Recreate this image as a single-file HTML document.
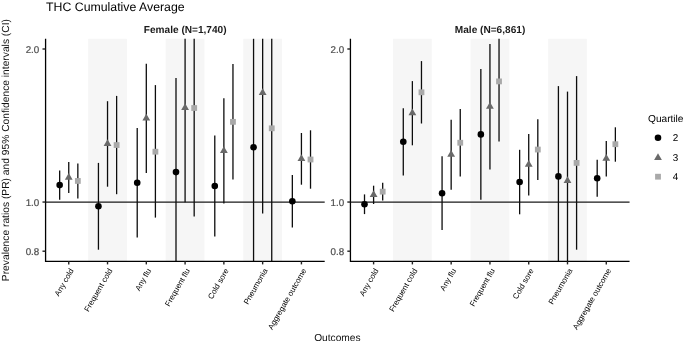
<!DOCTYPE html>
<html lang="en"><head><meta charset="utf-8"><title>THC Cumulative Average</title>
<style>
html,body{margin:0;padding:0;background:#fff;}
body{width:685px;height:343px;overflow:hidden;font-family:"Liberation Sans",Arial,Helvetica,sans-serif;}
svg{display:block;}
</style></head><body>
<svg width="685" height="343" viewBox="0 0 685 343" text-rendering="geometricPrecision" font-family="'Liberation Sans', Arial, Helvetica, sans-serif">
<rect width="685" height="343" fill="#fff"/>
<text x="46.1" y="10.55" font-size="12.3" fill="#000">THC Cumulative Average</text>
<rect x="88.14" y="38.8" width="38.78" height="222.4" fill="#f6f6f6"/>
<rect x="165.7" y="38.8" width="38.78" height="222.4" fill="#f6f6f6"/>
<rect x="243.26" y="38.8" width="38.78" height="222.4" fill="#f6f6f6"/>
<line x1="45.48" x2="324.7" y1="202.05" y2="202.05" stroke="#1a1a1a" stroke-width="1.3"/>
<line x1="59.66" x2="59.66" y1="170.4" y2="199.8" stroke="#0d0d0d" stroke-width="1.3"/>
<line x1="68.75" x2="68.75" y1="162.1" y2="193" stroke="#0d0d0d" stroke-width="1.3"/>
<line x1="77.84" x2="77.84" y1="163.5" y2="198.4" stroke="#0d0d0d" stroke-width="1.3"/>
<line x1="98.44" x2="98.44" y1="162.9" y2="249.7" stroke="#0d0d0d" stroke-width="1.3"/>
<line x1="107.53" x2="107.53" y1="101.2" y2="186.7" stroke="#0d0d0d" stroke-width="1.3"/>
<line x1="116.62" x2="116.62" y1="95.9" y2="194.2" stroke="#0d0d0d" stroke-width="1.3"/>
<line x1="137.22" x2="137.22" y1="128" y2="237.6" stroke="#0d0d0d" stroke-width="1.3"/>
<line x1="146.31" x2="146.31" y1="63.8" y2="172.9" stroke="#0d0d0d" stroke-width="1.3"/>
<line x1="155.4" x2="155.4" y1="85.1" y2="217.6" stroke="#0d0d0d" stroke-width="1.3"/>
<line x1="176" x2="176" y1="77.9" y2="261.2" stroke="#0d0d0d" stroke-width="1.3"/>
<line x1="185.09" x2="185.09" y1="38.8" y2="202.2" stroke="#0d0d0d" stroke-width="1.3"/>
<line x1="194.18" x2="194.18" y1="38.8" y2="216.6" stroke="#0d0d0d" stroke-width="1.3"/>
<line x1="214.78" x2="214.78" y1="135.5" y2="236.6" stroke="#0d0d0d" stroke-width="1.3"/>
<line x1="223.87" x2="223.87" y1="98.2" y2="203.4" stroke="#0d0d0d" stroke-width="1.3"/>
<line x1="232.96" x2="232.96" y1="64.1" y2="179.6" stroke="#0d0d0d" stroke-width="1.3"/>
<line x1="253.56" x2="253.56" y1="38.8" y2="261.2" stroke="#0d0d0d" stroke-width="1.3"/>
<line x1="262.65" x2="262.65" y1="38.8" y2="213.6" stroke="#0d0d0d" stroke-width="1.3"/>
<line x1="271.74" x2="271.74" y1="38.8" y2="261.2" stroke="#0d0d0d" stroke-width="1.3"/>
<line x1="292.34" x2="292.34" y1="174.9" y2="227.6" stroke="#0d0d0d" stroke-width="1.3"/>
<line x1="301.43" x2="301.43" y1="133" y2="184.7" stroke="#0d0d0d" stroke-width="1.3"/>
<line x1="310.52" x2="310.52" y1="130.3" y2="188.7" stroke="#0d0d0d" stroke-width="1.3"/>
<circle cx="59.66" cy="185.1" r="3.3" fill="#000000"/>
<path d="M68.75 172.9L72.65 179.65L64.85 179.65Z" fill="#696969"/>
<rect x="74.94" y="178.05" width="5.8" height="5.8" fill="#a9a9a9"/>
<circle cx="98.44" cy="206.3" r="3.3" fill="#000000"/>
<path d="M107.53 139.3L111.43 146.05L103.63 146.05Z" fill="#696969"/>
<rect x="113.72" y="142.15" width="5.8" height="5.8" fill="#a9a9a9"/>
<circle cx="137.22" cy="182.8" r="3.3" fill="#000000"/>
<path d="M146.31 113.7L150.21 120.45L142.41 120.45Z" fill="#696969"/>
<rect x="152.5" y="148.8" width="5.8" height="5.8" fill="#a9a9a9"/>
<circle cx="176" cy="172.1" r="3.3" fill="#000000"/>
<path d="M185.09 103.25L188.99 110L181.19 110Z" fill="#696969"/>
<rect x="191.28" y="105.1" width="5.8" height="5.8" fill="#a9a9a9"/>
<circle cx="214.78" cy="186.05" r="3.3" fill="#000000"/>
<path d="M223.87 146.15L227.77 152.9L219.97 152.9Z" fill="#696969"/>
<rect x="230.06" y="118.95" width="5.8" height="5.8" fill="#a9a9a9"/>
<circle cx="253.56" cy="147.3" r="3.3" fill="#000000"/>
<path d="M262.65 88.35L266.55 95.1L258.75 95.1Z" fill="#696969"/>
<rect x="268.84" y="125.4" width="5.8" height="5.8" fill="#a9a9a9"/>
<circle cx="292.34" cy="201.25" r="3.3" fill="#000000"/>
<path d="M301.43 154.2L305.33 160.95L297.53 160.95Z" fill="#696969"/>
<rect x="307.62" y="156.6" width="5.8" height="5.8" fill="#a9a9a9"/>
<path d="M45.58 38.8V261.3H324.7" fill="none" stroke="#000" stroke-width="1.3"/>
<line x1="42.48" x2="45.48" y1="49.0" y2="49.0" stroke="#222" stroke-width="1.4"/>
<text x="39.28" y="52.7" text-anchor="end" font-size="9.8" fill="#4d4d4d" stroke="#4d4d4d" stroke-width="0.2">2.0</text>
<line x1="42.48" x2="45.48" y1="202.05" y2="202.05" stroke="#222" stroke-width="1.4"/>
<text x="39.28" y="205.75" text-anchor="end" font-size="9.8" fill="#4d4d4d" stroke="#4d4d4d" stroke-width="0.2">1.0</text>
<line x1="42.48" x2="45.48" y1="251.2" y2="251.2" stroke="#222" stroke-width="1.4"/>
<text x="39.28" y="254.9" text-anchor="end" font-size="9.8" fill="#4d4d4d" stroke="#4d4d4d" stroke-width="0.2">0.8</text>
<line x1="68.75" x2="68.75" y1="261.2" y2="264.4" stroke="#222" stroke-width="1.4"/>
<text transform="translate(73.95,270.5) rotate(-60)" text-anchor="end" font-size="7.9" fill="#000">Any cold</text>
<line x1="107.53" x2="107.53" y1="261.2" y2="264.4" stroke="#222" stroke-width="1.4"/>
<text transform="translate(112.73,270.5) rotate(-60)" text-anchor="end" font-size="7.9" fill="#000">Frequent cold</text>
<line x1="146.31" x2="146.31" y1="261.2" y2="264.4" stroke="#222" stroke-width="1.4"/>
<text transform="translate(151.51,270.5) rotate(-60)" text-anchor="end" font-size="7.9" fill="#000">Any flu</text>
<line x1="185.09" x2="185.09" y1="261.2" y2="264.4" stroke="#222" stroke-width="1.4"/>
<text transform="translate(190.29,270.5) rotate(-60)" text-anchor="end" font-size="7.9" fill="#000">Frequent flu</text>
<line x1="223.87" x2="223.87" y1="261.2" y2="264.4" stroke="#222" stroke-width="1.4"/>
<text transform="translate(229.07,270.5) rotate(-60)" text-anchor="end" font-size="7.9" fill="#000">Cold sore</text>
<line x1="262.65" x2="262.65" y1="261.2" y2="264.4" stroke="#222" stroke-width="1.4"/>
<text transform="translate(267.85,270.5) rotate(-60)" text-anchor="end" font-size="7.9" fill="#000">Pneumonia</text>
<line x1="301.43" x2="301.43" y1="261.2" y2="264.4" stroke="#222" stroke-width="1.4"/>
<text transform="translate(306.63,270.5) rotate(-60)" text-anchor="end" font-size="7.9" fill="#000">Aggregate outcome</text>
<text x="185.19" y="32.6" text-anchor="middle" font-size="10.1" font-weight="bold" fill="#1a1a1a">Female (N=1,740)</text>
<rect x="392.99" y="38.8" width="38.78" height="222.4" fill="#f6f6f6"/>
<rect x="470.55" y="38.8" width="38.78" height="222.4" fill="#f6f6f6"/>
<rect x="548.11" y="38.8" width="38.78" height="222.4" fill="#f6f6f6"/>
<line x1="350.33" x2="629.55" y1="202.05" y2="202.05" stroke="#1a1a1a" stroke-width="1.3"/>
<line x1="364.51" x2="364.51" y1="194.4" y2="214.1" stroke="#0d0d0d" stroke-width="1.3"/>
<line x1="373.6" x2="373.6" y1="185.7" y2="204" stroke="#0d0d0d" stroke-width="1.3"/>
<line x1="382.69" x2="382.69" y1="182.7" y2="200.6" stroke="#0d0d0d" stroke-width="1.3"/>
<line x1="403.29" x2="403.29" y1="108.2" y2="175.4" stroke="#0d0d0d" stroke-width="1.3"/>
<line x1="412.38" x2="412.38" y1="81.1" y2="145.3" stroke="#0d0d0d" stroke-width="1.3"/>
<line x1="421.47" x2="421.47" y1="61.1" y2="123.5" stroke="#0d0d0d" stroke-width="1.3"/>
<line x1="442.07" x2="442.07" y1="156.3" y2="230.1" stroke="#0d0d0d" stroke-width="1.3"/>
<line x1="451.16" x2="451.16" y1="119.7" y2="189.7" stroke="#0d0d0d" stroke-width="1.3"/>
<line x1="460.25" x2="460.25" y1="108.9" y2="176.6" stroke="#0d0d0d" stroke-width="1.3"/>
<line x1="480.85" x2="480.85" y1="69.1" y2="199.7" stroke="#0d0d0d" stroke-width="1.3"/>
<line x1="489.94" x2="489.94" y1="44" y2="169.4" stroke="#0d0d0d" stroke-width="1.3"/>
<line x1="499.03" x2="499.03" y1="38.8" y2="141.6" stroke="#0d0d0d" stroke-width="1.3"/>
<line x1="519.63" x2="519.63" y1="149.8" y2="214.3" stroke="#0d0d0d" stroke-width="1.3"/>
<line x1="528.72" x2="528.72" y1="134" y2="195.4" stroke="#0d0d0d" stroke-width="1.3"/>
<line x1="537.81" x2="537.81" y1="119.2" y2="179.9" stroke="#0d0d0d" stroke-width="1.3"/>
<line x1="558.41" x2="558.41" y1="86.1" y2="261.2" stroke="#0d0d0d" stroke-width="1.3"/>
<line x1="567.5" x2="567.5" y1="91.6" y2="261.2" stroke="#0d0d0d" stroke-width="1.3"/>
<line x1="576.59" x2="576.59" y1="76.1" y2="249.7" stroke="#0d0d0d" stroke-width="1.3"/>
<line x1="597.19" x2="597.19" y1="159.8" y2="196.7" stroke="#0d0d0d" stroke-width="1.3"/>
<line x1="606.28" x2="606.28" y1="141" y2="176.4" stroke="#0d0d0d" stroke-width="1.3"/>
<line x1="615.37" x2="615.37" y1="127.3" y2="161.7" stroke="#0d0d0d" stroke-width="1.3"/>
<circle cx="364.51" cy="204.25" r="3.3" fill="#000000"/>
<path d="M373.6 190.2L377.5 196.95L369.7 196.95Z" fill="#696969"/>
<rect x="379.79" y="188.75" width="5.8" height="5.8" fill="#a9a9a9"/>
<circle cx="403.29" cy="141.8" r="3.3" fill="#000000"/>
<path d="M412.38 108.55L416.28 115.3L408.48 115.3Z" fill="#696969"/>
<rect x="418.57" y="89.4" width="5.8" height="5.8" fill="#a9a9a9"/>
<circle cx="442.07" cy="193.2" r="3.3" fill="#000000"/>
<path d="M451.16 150.05L455.06 156.8L447.26 156.8Z" fill="#696969"/>
<rect x="457.35" y="139.85" width="5.8" height="5.8" fill="#a9a9a9"/>
<circle cx="480.85" cy="134.4" r="3.3" fill="#000000"/>
<path d="M489.94 102.05L493.84 108.8L486.04 108.8Z" fill="#696969"/>
<rect x="496.13" y="78.5" width="5.8" height="5.8" fill="#a9a9a9"/>
<circle cx="519.63" cy="182.05" r="3.3" fill="#000000"/>
<path d="M528.72 160.05L532.62 166.8L524.82 166.8Z" fill="#696969"/>
<rect x="534.91" y="146.65" width="5.8" height="5.8" fill="#a9a9a9"/>
<circle cx="558.41" cy="176.4" r="3.3" fill="#000000"/>
<path d="M567.5 176.35L571.4 183.1L563.6 183.1Z" fill="#696969"/>
<rect x="573.69" y="160" width="5.8" height="5.8" fill="#a9a9a9"/>
<circle cx="597.19" cy="178.25" r="3.3" fill="#000000"/>
<path d="M606.28 154.05L610.18 160.8L602.38 160.8Z" fill="#696969"/>
<rect x="612.47" y="141.3" width="5.8" height="5.8" fill="#a9a9a9"/>
<path d="M350.43 38.8V261.3H629.55" fill="none" stroke="#000" stroke-width="1.3"/>
<line x1="347.33" x2="350.33" y1="49.0" y2="49.0" stroke="#222" stroke-width="1.4"/>
<text x="344.13" y="52.7" text-anchor="end" font-size="9.8" fill="#4d4d4d" stroke="#4d4d4d" stroke-width="0.2">2.0</text>
<line x1="347.33" x2="350.33" y1="202.05" y2="202.05" stroke="#222" stroke-width="1.4"/>
<text x="344.13" y="205.75" text-anchor="end" font-size="9.8" fill="#4d4d4d" stroke="#4d4d4d" stroke-width="0.2">1.0</text>
<line x1="347.33" x2="350.33" y1="251.2" y2="251.2" stroke="#222" stroke-width="1.4"/>
<text x="344.13" y="254.9" text-anchor="end" font-size="9.8" fill="#4d4d4d" stroke="#4d4d4d" stroke-width="0.2">0.8</text>
<line x1="373.6" x2="373.6" y1="261.2" y2="264.4" stroke="#222" stroke-width="1.4"/>
<text transform="translate(378.8,270.5) rotate(-60)" text-anchor="end" font-size="7.9" fill="#000">Any cold</text>
<line x1="412.38" x2="412.38" y1="261.2" y2="264.4" stroke="#222" stroke-width="1.4"/>
<text transform="translate(417.58,270.5) rotate(-60)" text-anchor="end" font-size="7.9" fill="#000">Frequent cold</text>
<line x1="451.16" x2="451.16" y1="261.2" y2="264.4" stroke="#222" stroke-width="1.4"/>
<text transform="translate(456.36,270.5) rotate(-60)" text-anchor="end" font-size="7.9" fill="#000">Any flu</text>
<line x1="489.94" x2="489.94" y1="261.2" y2="264.4" stroke="#222" stroke-width="1.4"/>
<text transform="translate(495.14,270.5) rotate(-60)" text-anchor="end" font-size="7.9" fill="#000">Frequent flu</text>
<line x1="528.72" x2="528.72" y1="261.2" y2="264.4" stroke="#222" stroke-width="1.4"/>
<text transform="translate(533.92,270.5) rotate(-60)" text-anchor="end" font-size="7.9" fill="#000">Cold sore</text>
<line x1="567.5" x2="567.5" y1="261.2" y2="264.4" stroke="#222" stroke-width="1.4"/>
<text transform="translate(572.7,270.5) rotate(-60)" text-anchor="end" font-size="7.9" fill="#000">Pneumonia</text>
<line x1="606.28" x2="606.28" y1="261.2" y2="264.4" stroke="#222" stroke-width="1.4"/>
<text transform="translate(611.48,270.5) rotate(-60)" text-anchor="end" font-size="7.9" fill="#000">Aggregate outcome</text>
<text x="490.04" y="32.6" text-anchor="middle" font-size="10.1" font-weight="bold" fill="#1a1a1a">Male (N=6,861)</text>
<text transform="translate(9.3,150.1) rotate(-90)" text-anchor="middle" font-size="10.25" fill="#111">Prevalence ratios (PR) and 95% Confidence intervals (CI)</text>
<text x="337.4" y="341.2" text-anchor="middle" font-size="10.2" fill="#111">Outcomes</text>
<text x="648.0" y="121.8" font-size="10.15" fill="#000">Quartile</text>
<circle cx="658" cy="137.8" r="3.3" fill="#000000"/>
<text x="672.8" y="141.4" font-size="9.9" fill="#000">2</text>
<path d="M658 153.35L661.9 160.1L654.1 160.1Z" fill="#696969"/>
<text x="672.8" y="160.8" font-size="9.9" fill="#000">3</text>
<rect x="655.1" y="173.8" width="5.8" height="5.8" fill="#a9a9a9"/>
<text x="672.8" y="180.3" font-size="9.9" fill="#000">4</text>
</svg>
</body></html>
